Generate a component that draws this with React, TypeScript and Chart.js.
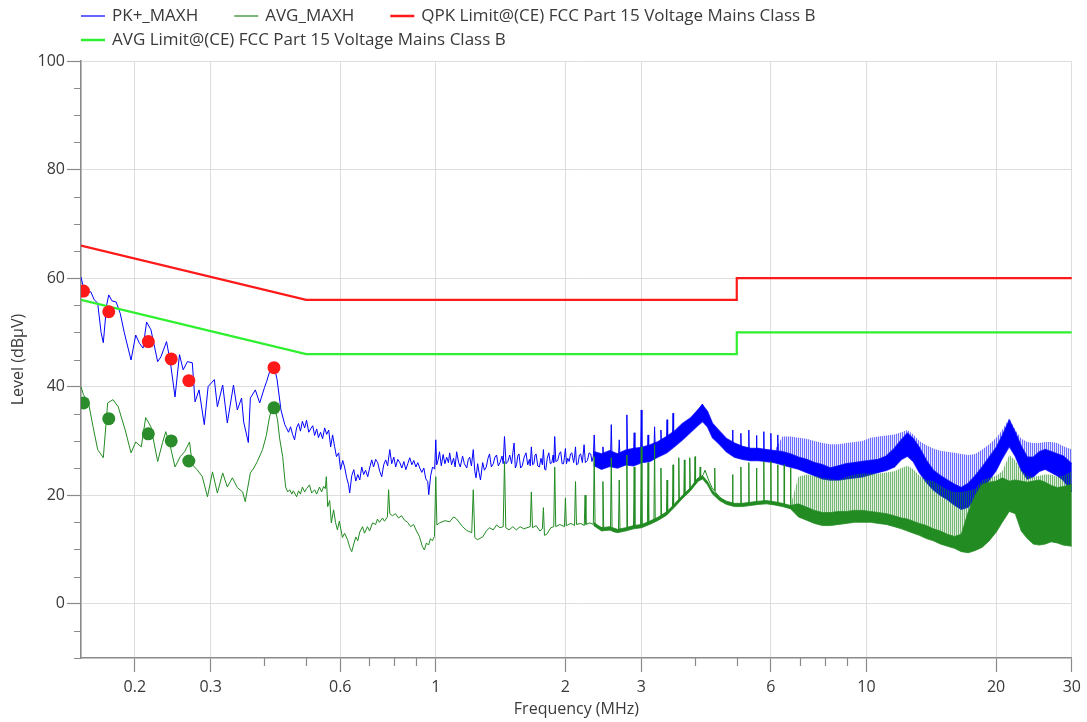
import React, { useEffect, useRef } from 'react';
import { Chart, registerables } from 'chart.js';

Chart.register(...registerables);

type Pt = [number, number];

// ---------- axes ----------
const xMajorTicks = [0.2, 0.3, 0.6, 1, 2, 3, 6, 10, 20, 30];
const xMinorTicks = [0.4, 0.5, 0.7, 0.8, 0.9, 4, 5, 7, 8, 9];
const yMajorTicks = [0, 20, 40, 60, 80, 100];
const yMinorTicks = [-10, -5, 5, 10, 15, 25, 30, 35, 45, 50, 55, 65, 70, 75, 85, 90, 95];

// ---------- series names ----------
const seriesNames = [
  'PK+_MAXH',
  'AVG_MAXH',
  'QPK Limit@(CE) FCC Part 15 Voltage Mains Class B',
  'AVG Limit@(CE) FCC Part 15 Voltage Mains Class B',
];

// ---------- limit lines (MHz, dBµV) ----------
const qpkLimit: Pt[] = [[0.15, 66], [0.5, 56], [5, 56], [5, 60], [30, 60]];
const avgLimit: Pt[] = [[0.15, 56], [0.5, 46], [5, 46], [5, 50], [30, 50]];

// ---------- final measurement markers ----------
const pkMarkers: Pt[] = [[0.152, 57.6], [0.174, 53.8], [0.215, 48.3], [0.243, 45.1], [0.267, 41.1], [0.421, 43.5]];
const avgMarkers: Pt[] = [[0.152, 37.0], [0.174, 34.1], [0.215, 31.3], [0.243, 30.0], [0.267, 26.3], [0.421, 36.1]];

// ---------- PK+ trace ----------
const pkTraceA: Pt[] = [
  [0.150, 60.2], [0.152, 58.2], [0.155, 57.2], [0.158, 57.5], [0.161, 56.0], [0.164, 55.4], [0.167, 50.0],
  [0.169, 48.1], [0.172, 55.0], [0.174, 56.9], [0.177, 55.8], [0.181, 55.6], [0.185, 53.5], [0.189, 50.0],
  [0.196, 44.9], [0.201, 49.5], [0.205, 48.0], [0.209, 47.1], [0.213, 51.9], [0.218, 50.5], [0.226, 44.6],
  [0.230, 45.5], [0.237, 48.3], [0.242, 44.4], [0.248, 38.1], [0.254, 45.9], [0.259, 43.1], [0.265, 44.6],
  [0.272, 44.4], [0.276, 37.2], [0.282, 39.4], [0.290, 33.0], [0.296, 40.0], [0.306, 41.3], [0.311, 36.3],
  [0.320, 40.3], [0.328, 33.3], [0.339, 40.3], [0.346, 35.7], [0.354, 37.9], [0.358, 33.5], [0.367, 29.7],
  [0.371, 37.9], [0.381, 39.4], [0.390, 37.0], [0.400, 39.8], [0.405, 41.0], [0.411, 42.7], [0.416, 43.9],
  [0.422, 43.5], [0.428, 41.3], [0.437, 35.7],
];
const pkTraceB: Pt[] = [
  [0.446, 33.0], [0.450, 32.4], [0.455, 31.6], [0.460, 32.6], [0.465, 31.2], [0.470, 30.2], [0.475, 32.4],
  [0.480, 33.2], [0.485, 31.8], [0.490, 33.6], [0.496, 32.4], [0.501, 33.8], [0.507, 31.6], [0.512, 32.2],
  [0.518, 32.8], [0.523, 31.0], [0.529, 32.2], [0.534, 30.6], [0.540, 31.6], [0.546, 30.4], [0.552, 32.4],
  [0.558, 31.2], [0.564, 32.0], [0.570, 28.9], [0.576, 31.1], [0.582, 29.0], [0.588, 27.1], [0.595, 27.8],
  [0.601, 24.7], [0.608, 26.4], [0.614, 25.2], [0.621, 23.2], [0.627, 22.0], [0.631, 20.4], [0.638, 23.6],
  [0.645, 24.7], [0.652, 22.6], [0.659, 23.8], [0.666, 22.8], [0.673, 25.2], [0.680, 23.8], [0.687, 24.6],
  [0.695, 23.4], [0.702, 25.0], [0.710, 26.5], [0.717, 25.2], [0.725, 26.6], [0.733, 26.0], [0.741, 24.4],
  [0.749, 23.4], [0.757, 25.6], [0.765, 26.5], [0.773, 25.4], [0.782, 28.4], [0.790, 25.8], [0.799, 27.0],
  [0.807, 25.2], [0.816, 26.6], [0.825, 26.0], [0.834, 25.0], [0.843, 26.2], [0.852, 24.7], [0.861, 25.8],
  [0.870, 26.9], [0.880, 25.6], [0.889, 26.4], [0.899, 25.2], [0.908, 26.0], [0.918, 25.0], [0.928, 24.2],
  [0.938, 25.0], [0.948, 23.0], [0.958, 22.5], [0.963, 20.1], [0.973, 23.6], [0.983, 25.2], [0.994, 24.8],
  [1.000, 30.2], [1.005, 25.6],
];
const pkTraceC: Pt[] = [
  [1.012, 26.4], [1.02, 28.0], [1.03, 25.4], [1.04, 27.5], [1.05, 25.8], [1.06, 27.0], [1.07, 26.0],
  [1.077, 27.8], [1.088, 25.6], [1.10, 26.8], [1.109, 25.2], [1.118, 28.0], [1.13, 26.0], [1.14, 25.2],
  [1.154, 27.2], [1.165, 25.8], [1.18, 25.0], [1.19, 26.6], [1.199, 27.0], [1.21, 25.4], [1.222, 28.4],
  [1.232, 24.4], [1.24, 23.2], [1.251, 25.8], [1.26, 24.2], [1.27, 22.8], [1.285, 26.0], [1.297, 24.6],
  [1.31, 25.2], [1.322, 26.8], [1.333, 27.6], [1.346, 25.2], [1.36, 25.8], [1.372, 27.0], [1.384, 27.4],
  [1.397, 25.4], [1.41, 26.0], [1.425, 27.2], [1.434, 25.8], [1.444, 30.8], [1.456, 25.8], [1.47, 26.2],
  [1.485, 27.4], [1.50, 25.8], [1.51, 27.8], [1.52, 29.6], [1.53, 25.0], [1.54, 25.6], [1.55, 27.2],
  [1.56, 27.6], [1.574, 25.0], [1.588, 25.4], [1.604, 27.0], [1.62, 27.8], [1.635, 25.6], [1.65, 26.6],
  [1.657, 25.4], [1.667, 28.9], [1.678, 25.6], [1.69, 25.8], [1.70, 27.4], [1.71, 27.6], [1.725, 25.4],
  [1.74, 25.2], [1.755, 26.8], [1.768, 25.6], [1.778, 28.4], [1.79, 24.8], [1.80, 24.6], [1.815, 26.8],
  [1.83, 27.8], [1.845, 25.8], [1.86, 26.0], [1.873, 27.4], [1.879, 26.0], [1.889, 30.8], [1.90, 26.2],
  [1.92, 26.4], [1.935, 27.6], [1.95, 28.0], [1.965, 25.8], [1.98, 25.8], [1.99, 27.0], [2.0, 28.6],
  [2.012, 25.8], [2.025, 26.8], [2.04, 26.2], [2.055, 27.6], [2.07, 27.8], [2.09, 26.0], [2.10, 27.0],
  [2.111, 28.9], [2.122, 25.6], [2.14, 25.8], [2.155, 27.4], [2.17, 27.6], [2.19, 26.0], [2.21, 29.3],
  [2.225, 26.0], [2.25, 26.4], [2.27, 27.8], [2.29, 27.6], [2.305, 26.2],
];
const pkTraceD: Pt[] = [
  [2.322, 27.2], [2.333, 31.1], [2.345, 26.8], [2.39, 27.4], [2.434, 26.6], [2.444, 28.9], [2.455, 26.8],
  [2.50, 27.2], [2.545, 26.4], [2.556, 33.0], [2.567, 26.6], [2.61, 27.4], [2.656, 26.8], [2.667, 30.2],
  [2.678, 26.8], [2.72, 27.6], [2.767, 27.0], [2.778, 34.8], [2.789, 27.0], [2.83, 27.8], [2.878, 27.2],
  [2.889, 31.5], [2.900, 27.2], [2.95, 28.0], [2.989, 27.4], [3.0, 35.7], [3.011, 27.6], [3.06, 28.2],
  [3.10, 27.8], [3.111, 31.1], [3.122, 28.0], [3.17, 28.8], [3.211, 28.2], [3.222, 32.6], [3.233, 28.4],
  [3.28, 29.4], [3.322, 28.8], [3.333, 32.0], [3.344, 29.0], [3.39, 30.0], [3.433, 29.6], [3.444, 33.9],
  [3.455, 29.8], [3.50, 30.6], [3.545, 30.2], [3.556, 35.1], [3.567, 30.6], [3.62, 31.6], [3.70, 32.4],
  [3.80, 33.4], [3.90, 34.0], [4.0, 35.0], [4.08, 35.8], [4.16, 36.8], [4.25, 34.8], [4.35, 33.0],
  [4.45, 31.8], [4.56, 30.8], [4.70, 29.8], [4.80, 29.0], [4.878, 28.6], [4.889, 32.0], [4.900, 28.6],
  [5.0, 28.2], [5.10, 28.0], [5.111, 31.4], [5.122, 28.0], [5.25, 27.8], [5.322, 27.8], [5.333, 32.0],
  [5.344, 27.6], [5.45, 27.8], [5.545, 27.6], [5.556, 31.0], [5.567, 27.6], [5.68, 27.6], [5.767, 27.4],
  [5.778, 31.7], [5.789, 27.4], [5.90, 27.4], [5.989, 27.2], [6.0, 31.4], [6.011, 27.2], [6.12, 27.0],
  [6.211, 27.0], [6.222, 31.1], [6.233, 27.0], [6.30, 27.0],
];

// ---------- AVG trace ----------
const avgTraceA: Pt[] = [
  [0.150, 40.0], [0.152, 38.5], [0.156, 37.2], [0.160, 32.6], [0.164, 28.4], [0.169, 26.9], [0.173, 37.0],
  [0.178, 37.6], [0.183, 36.3], [0.190, 32.0], [0.196, 27.8], [0.201, 29.8], [0.207, 28.9], [0.212, 34.3],
  [0.218, 32.6], [0.226, 26.2], [0.232, 29.7], [0.236, 31.7], [0.242, 28.9], [0.248, 25.2], [0.255, 27.1],
  [0.261, 28.0], [0.268, 29.8], [0.272, 25.6], [0.279, 24.7], [0.287, 23.4], [0.295, 19.7], [0.303, 24.3],
  [0.311, 20.4], [0.320, 24.1], [0.328, 21.5], [0.337, 23.2], [0.346, 21.4], [0.356, 20.6], [0.361, 18.8],
  [0.371, 24.1], [0.378, 25.0], [0.385, 26.2], [0.396, 28.4], [0.404, 31.0], [0.411, 34.4], [0.420, 37.0],
  [0.429, 33.9], [0.434, 30.4], [0.441, 27.1],
];
const avgTraceB: Pt[] = [
  [0.446, 23.0], [0.448, 21.5], [0.453, 20.6], [0.458, 21.0], [0.463, 20.2], [0.467, 20.8], [0.475, 19.7],
  [0.480, 20.8], [0.485, 20.2], [0.490, 21.5], [0.496, 20.6], [0.501, 21.2], [0.509, 21.9], [0.515, 20.4],
  [0.523, 21.0], [0.529, 20.2], [0.537, 21.5], [0.543, 20.6], [0.549, 21.6], [0.554, 21.2], [0.557, 23.4],
  [0.561, 17.9], [0.567, 19.0], [0.572, 14.9], [0.579, 17.3], [0.585, 15.0], [0.591, 13.6], [0.597, 15.2],
  [0.607, 12.2], [0.614, 13.0], [0.624, 11.8], [0.631, 10.4], [0.638, 9.6], [0.645, 11.0], [0.652, 12.3],
  [0.659, 11.6], [0.666, 13.2], [0.676, 14.2], [0.683, 13.0], [0.694, 14.2], [0.702, 13.4], [0.713, 14.9],
  [0.725, 14.6], [0.732, 15.6], [0.740, 15.0], [0.752, 15.8], [0.760, 15.2], [0.772, 16.0], [0.777, 21.0],
  [0.782, 16.6], [0.793, 16.2], [0.806, 16.6], [0.819, 15.8], [0.833, 16.2], [0.846, 15.4], [0.860, 15.0],
  [0.874, 14.2], [0.888, 14.6], [0.902, 13.4], [0.916, 12.4], [0.931, 10.5], [0.941, 9.9], [0.951, 11.2],
  [0.962, 10.8], [0.972, 12.0], [0.982, 11.6], [0.993, 12.4], [1.000, 23.4], [1.006, 14.5],
];
const avgTraceC: Pt[] = [
  [1.02, 14.9], [1.05, 15.3], [1.077, 15.1], [1.10, 16.0], [1.118, 15.6], [1.154, 14.2], [1.18, 13.5],
  [1.212, 13.1], [1.222, 21.0], [1.232, 12.2], [1.25, 11.8], [1.285, 12.3], [1.31, 13.4], [1.333, 14.0],
  [1.36, 13.6], [1.384, 14.5], [1.41, 14.0], [1.434, 14.2], [1.444, 26.2], [1.454, 14.0], [1.48, 13.6],
  [1.51, 14.2], [1.538, 13.6], [1.57, 14.2], [1.60, 13.8], [1.657, 14.2], [1.667, 20.6], [1.677, 14.0],
  [1.71, 14.4], [1.745, 13.4], [1.768, 13.8], [1.778, 17.7], [1.788, 12.6], [1.81, 12.8], [1.85, 14.0],
  [1.879, 14.2], [1.889, 25.2], [1.899, 14.2], [1.94, 14.6], [1.99, 14.2], [2.0, 19.5], [2.01, 14.4],
  [2.06, 14.8], [2.10, 14.4], [2.111, 22.5], [2.122, 14.6], [2.17, 14.8], [2.212, 14.4], [2.222, 20.0],
  [2.232, 14.6], [2.28, 14.9], [2.322, 14.6], [2.333, 27.1], [2.344, 14.4],
];
const avgTraceD: Pt[] = [
  [2.39, 14.2], [2.434, 14.0], [2.444, 22.5], [2.455, 13.8], [2.50, 13.6], [2.545, 13.6], [2.556, 26.9],
  [2.567, 13.4], [2.61, 13.2], [2.656, 13.4], [2.667, 22.8], [2.678, 13.4], [2.72, 13.6], [2.767, 13.8],
  [2.778, 27.4], [2.789, 13.8], [2.83, 14.0], [2.878, 14.0], [2.889, 25.2], [2.900, 14.0], [2.95, 14.2],
  [2.989, 14.2], [3.0, 28.9], [3.011, 14.4], [3.06, 14.6], [3.10, 14.8], [3.111, 26.0], [3.122, 14.8],
  [3.17, 15.2], [3.211, 15.4], [3.222, 29.3], [3.233, 15.6], [3.28, 15.8], [3.322, 16.0], [3.333, 25.0],
  [3.344, 16.2], [3.39, 16.6], [3.433, 16.8], [3.444, 22.8], [3.455, 17.0], [3.50, 17.4], [3.545, 17.6],
  [3.556, 25.6], [3.567, 17.8], [3.62, 18.4], [3.656, 18.8], [3.667, 26.9], [3.678, 19.0], [3.72, 19.4],
  [3.767, 19.8], [3.778, 26.5], [3.789, 20.0], [3.84, 20.4], [3.878, 20.8], [3.889, 26.9], [3.900, 21.0],
  [3.95, 21.4], [3.989, 21.8], [4.0, 27.1], [4.011, 22.0], [4.06, 22.6], [4.10, 23.0], [4.111, 25.2],
  [4.122, 23.2], [4.18, 23.8], [4.22, 24.6], [4.30, 22.8], [4.38, 21.4], [4.433, 20.8], [4.444, 25.0],
  [4.455, 20.6], [4.55, 19.8], [4.65, 19.0], [4.75, 18.6], [4.878, 18.2], [4.889, 23.8], [4.900, 18.2],
  [5.0, 18.2], [5.10, 18.2], [5.111, 25.2], [5.122, 18.2], [5.22, 18.4], [5.322, 18.4], [5.333, 26.0],
  [5.344, 18.4], [5.45, 18.4], [5.545, 18.6], [5.556, 25.0], [5.567, 18.6], [5.67, 18.6], [5.767, 18.6],
  [5.778, 26.2], [5.789, 18.6], [5.90, 18.6], [5.989, 18.6], [6.0, 26.2], [6.011, 18.4], [6.12, 18.4],
  [6.211, 18.4], [6.222, 25.6], [6.233, 18.2], [6.36, 18.2], [6.434, 18.0], [6.444, 25.6], [6.455, 18.0],
  [6.56, 17.8], [6.656, 17.8], [6.667, 25.0], [6.678, 17.6], [6.80, 17.4], [6.95, 17.2],
];

// ---------- dense high-frequency region: envelopes on a shared frequency grid ----------
const bandFreq = [
  2.325, 2.427, 2.533, 2.643, 2.759, 2.880, 3.005, 3.136, 3.273, 3.435,
  3.585, 3.741, 3.904, 4.053, 4.163, 4.276, 4.392, 4.560, 4.733, 4.939,
  5.155, 5.380, 5.615, 5.860, 6.116, 6.384, 6.662, 6.954, 7.257, 7.575,
  7.905, 8.251, 8.610, 8.986, 9.380, 9.789, 10.22, 10.66, 11.13, 11.61,
  12.06, 12.45, 12.85, 13.27, 13.78, 14.30, 14.85, 15.42, 16.01, 16.61,
  17.25, 17.90, 18.58, 19.29, 20.03, 20.68, 21.47, 22.17, 22.89, 23.64,
  24.41, 25.20, 26.02, 26.87, 27.75, 28.65, 30.0,
];
const pkBandLow = [
  25.5, 24.8, 25.3, 25.0, 25.6, 25.4, 26.0, 26.2, 27.0, 27.8,
  29.0, 30.2, 31.6, 32.8, 33.6, 32.6, 30.6, 29.4, 28.0, 27.0,
  26.6, 26.4, 26.4, 26.2, 26.0, 25.6, 25.2, 24.8, 24.2, 23.6,
  23.0, 22.8, 22.8, 23.0, 23.2, 23.4, 23.8, 24.2, 24.6, 25.2,
  26.6, 27.2, 26.2, 24.2, 22.4, 21.0, 20.0, 19.2, 18.2, 17.4,
  17.8, 19.4, 21.0, 22.8, 24.6, 26.8, 29.0, 27.2, 24.6, 23.0,
  23.4, 24.4, 24.8, 24.2, 23.6, 22.8, 20.6,
];
const pkBandHigh = [
  28.0, 27.6, 28.2, 27.6, 28.3, 28.6, 28.8, 29.2, 29.8, 30.8,
  31.8, 33.2, 34.2, 35.6, 36.6, 35.4, 33.2, 31.8, 30.4, 29.6,
  29.0, 28.6, 28.6, 28.4, 28.2, 28.0, 27.6, 27.0, 26.6, 26.0,
  25.6, 25.0, 25.4, 25.8, 26.0, 26.2, 26.4, 26.6, 27.2, 28.6,
  30.2, 31.4, 30.4, 28.8, 26.4, 24.6, 23.6, 22.8, 22.0, 21.4,
  22.2, 23.6, 25.2, 27.0, 28.8, 31.0, 33.8, 31.6, 29.0, 27.0,
  27.0, 28.0, 28.4, 28.0, 27.6, 27.2, 25.8,
];
const pkSpikeTop = [
  28.0, 27.6, 28.2, 27.6, 28.3, 28.6, 28.8, 29.2, 29.8, 30.8,
  31.8, 33.2, 34.2, 35.6, 36.6, 35.4, 33.2, 31.8, 30.4, 29.6,
  29.0, 28.6, 28.6, 28.4, 28.2, 30.8, 30.8, 30.6, 30.4, 30.0,
  29.6, 29.4, 29.4, 29.6, 29.8, 30.0, 30.6, 30.8, 31.0, 31.2,
  31.6, 32.0, 31.2, 30.0, 29.2, 28.6, 28.2, 28.0, 27.8, 27.6,
  27.4, 27.6, 28.4, 29.4, 30.6, 32.0, 34.2, 32.0, 30.4, 29.8,
  29.6, 29.6, 29.8, 29.8, 29.6, 29.0, 28.4,
];
const avgBandLow = [
  14.4, 13.4, 13.6, 13.1, 13.4, 13.8, 14.0, 14.6, 15.3, 16.3,
  17.8, 19.4, 20.8, 22.5, 23.0, 21.9, 20.2, 19.0, 18.3, 17.9,
  17.9, 18.1, 18.3, 18.4, 18.2, 17.9, 17.5, 16.0, 15.4, 14.8,
  14.4, 14.4, 14.6, 14.8, 15.0, 15.0, 15.0, 14.8, 14.6, 14.2,
  13.8, 13.4, 13.0, 12.6, 12.0, 11.6, 11.0, 10.6, 10.2, 9.6,
  9.4, 9.8, 10.4, 11.6, 13.2, 15.0, 17.0, 16.6, 13.4, 12.0,
  11.0, 10.8, 11.0, 11.4, 11.2, 10.8, 10.6,
];
const avgBandHigh = [
  15.0, 14.0, 14.2, 13.7, 14.0, 14.4, 14.6, 15.2, 15.9, 16.9,
  18.4, 20.0, 21.4, 23.1, 23.6, 22.5, 20.8, 19.6, 18.9, 18.5,
  18.5, 18.7, 18.9, 19.0, 18.8, 18.5, 18.1, 18.4, 17.8, 17.2,
  16.8, 16.8, 17.0, 17.0, 17.2, 17.2, 17.0, 16.8, 16.6, 16.2,
  15.8, 15.6, 15.2, 14.8, 14.4, 13.8, 13.4, 12.8, 12.4, 12.8,
  17.0, 20.0, 22.0, 22.4, 22.6, 23.2, 22.6, 22.8, 22.6, 22.4,
  22.6, 22.8, 22.4, 21.8, 21.4, 21.6, 22.0,
];
const avgSpikeTop = [
  15.0, 14.0, 14.2, 13.7, 14.0, 14.4, 14.6, 15.2, 15.9, 16.9,
  18.4, 20.0, 21.4, 23.1, 23.6, 22.5, 20.8, 19.6, 18.9, 18.5,
  18.5, 18.7, 18.9, 19.0, 18.8, 18.5, 18.1, 23.4, 23.8, 23.6,
  23.2, 23.0, 22.8, 23.4, 23.8, 24.0, 24.0, 24.0, 24.2, 24.4,
  25.0, 25.4, 24.8, 23.6, 22.8, 22.6, 21.8, 21.0, 20.6, 20.6,
  20.8, 21.2, 22.8, 23.2, 23.6, 24.4, 27.4, 26.4, 24.6, 23.6,
  23.4, 23.6, 23.8, 23.8, 23.4, 23.6, 24.4,
];

// ---------- styling ----------
const FONT = '"Open Sans", "DejaVu Sans", sans-serif';
const TEXT = '#3a3a3a';
const AXIS = '#8a8a8a';
const GRID = '#dedede';
const BLUE = '#0000ff';
const GREEN = '#228b22';
const RED = '#ff1a1a';
const LIME = '#2ef02e';

const xy = (pts: Pt[]) => pts.map(([x, y]) => ({ x, y }));
const band = (vals: number[]) => bandFreq.map((x, i) => ({ x, y: vals[i] }));

const lineDs = (label: string, data: any[], color: any, width: number, order: number, extra: any = {}) => ({
  label, data, borderColor: color, backgroundColor: color, borderWidth: width,
  pointRadius: 0, order, ...extra,
});

const legendPlugin = {
  id: 'customLegend',
  afterDraw(chart: any) {
    const { ctx } = chart;
    const items = [
      { text: seriesNames[0], color: BLUE, w: 1.2, row: 0 },
      { text: seriesNames[1], color: GREEN, w: 1.2, row: 0 },
      { text: seriesNames[2], color: RED, w: 2.5, row: 0 },
      { text: seriesNames[3], color: LIME, w: 2.5, row: 1 },
    ];
    ctx.save();
    ctx.font = `17px ${FONT}`;
    ctx.textBaseline = 'middle';
    const rowY = [16, 40];
    const cursor = [81, 81];
    for (const it of items) {
      const y = rowY[it.row];
      const x = cursor[it.row];
      ctx.strokeStyle = it.color;
      ctx.lineWidth = it.w;
      ctx.beginPath();
      ctx.moveTo(x, y);
      ctx.lineTo(x + 24, y);
      ctx.stroke();
      ctx.fillStyle = TEXT;
      ctx.fillText(it.text, x + 31, y);
      cursor[it.row] = x + 31 + ctx.measureText(it.text).width + 36;
    }
    ctx.restore();
  },
};

const minorTickPlugin = {
  id: 'minorTicks',
  afterDraw(chart: any) {
    const { ctx, chartArea, scales } = chart;
    ctx.save();
    ctx.strokeStyle = AXIS;
    ctx.lineWidth = 1.2;
    ctx.beginPath();
    for (const v of yMinorTicks) {
      const y = Math.round(scales.y.getPixelForValue(v)) + 0.5;
      ctx.moveTo(chartArea.left - 7, y);
      ctx.lineTo(chartArea.left, y);
    }
    for (const v of xMinorTicks) {
      const x = Math.round(scales.x.getPixelForValue(v)) + 0.5;
      ctx.moveTo(x, chartArea.bottom);
      ctx.lineTo(x, chartArea.bottom + 8);
    }
    ctx.stroke();
    ctx.restore();
  },
};

function stripe(target: HTMLCanvasElement, c1: string, c2: string) {
  const pc = document.createElement('canvas');
  pc.width = 2;
  pc.height = 1;
  const p = pc.getContext('2d')!;
  p.fillStyle = c1;
  p.fillRect(0, 0, 1, 1);
  p.fillStyle = c2;
  p.fillRect(1, 0, 1, 1);
  return target.getContext('2d')!.createPattern(pc, 'repeat');
}

export default function App() {
  const ref = useRef<HTMLCanvasElement>(null);

  useEffect(() => {
    document.body.style.margin = '0';
    const canvas = ref.current;
    if (!canvas) return;

    const pkTrace = xy([...pkTraceA, ...pkTraceB, ...pkTraceC, ...pkTraceD]);
    const avgTrace = xy([...avgTraceA, ...avgTraceB, ...avgTraceC, ...avgTraceD]);

    const pkHaze = stripe(canvas, 'rgba(20,20,255,0.62)', 'rgba(0,0,255,0.10)');
    const avgHaze = stripe(canvas, 'rgba(34,139,34,0.62)', 'rgba(34,139,34,0.14)');

    const datasets: any[] = [
      // 0,1 markers
      { label: 'pk markers', data: xy(pkMarkers), showLine: false, pointRadius: 6.5, pointBackgroundColor: RED,
        pointBorderColor: RED, pointBorderWidth: 0, borderColor: RED, backgroundColor: RED, order: 0 },
      { label: 'avg markers', data: xy(avgMarkers), showLine: false, pointRadius: 6.5, pointBackgroundColor: '#2a8c2a',
        pointBorderColor: '#2a8c2a', pointBorderWidth: 0, borderColor: GREEN, backgroundColor: GREEN, order: 1 },
      // 2,3 limits
      lineDs(seriesNames[2], xy(qpkLimit), RED, 2.2, 2),
      lineDs(seriesNames[3], xy(avgLimit), LIME, 2.2, 3),
      // 4 avg trace
      lineDs(seriesNames[1], avgTrace, GREEN, 1, 4),
      // 5,6,7 avg dense envelopes
      lineDs('avg spikes', band(avgSpikeTop), 'rgba(34,139,34,0)', 0, 5, { fill: 6, backgroundColor: avgHaze }),
      lineDs('avg band hi', band(avgBandHigh), GREEN, 0.8, 6, { fill: 7, backgroundColor: GREEN }),
      lineDs('avg band lo', band(avgBandLow), GREEN, 0.8, 7),
      // 8 pk trace
      lineDs(seriesNames[0], pkTrace, BLUE, 1, 8),
      // 9,10,11 pk dense envelopes
      lineDs('pk spikes', band(pkSpikeTop), 'rgba(0,0,255,0)', 0, 9, { fill: 10, backgroundColor: pkHaze }),
      lineDs('pk band hi', band(pkBandHigh), 'rgba(0,0,255,0.8)', 1.4, 10, { fill: 11, backgroundColor: BLUE }),
      lineDs('pk band lo', band(pkBandLow), 'rgba(0,0,255,0.8)', 1.4, 11),
    ];

    const chart = new Chart(canvas, {
      type: 'line',
      data: { datasets },
      options: {
        animation: false,
        responsive: false,
        devicePixelRatio: 1,
        events: [],
        layout: { padding: { top: 61, right: 14, bottom: 0, left: 0 } },
        plugins: {
          legend: { display: false },
          tooltip: { enabled: false },
          title: { display: false },
        },
        scales: {
          x: {
            type: 'logarithmic',
            min: 0.15,
            max: 30,
            afterBuildTicks: (s: any) => { s.ticks = xMajorTicks.map((v) => ({ value: v })); },
            afterFit: (s: any) => { s.height = 64; },
            ticks: {
              autoSkip: false, maxRotation: 0, minRotation: 0, padding: 6, color: TEXT,
              font: { family: FONT, size: 16 },
              callback: (v: any) => String(v),
            },
            grid: { color: GRID, lineWidth: 1, tickColor: AXIS, tickLength: 14, tickWidth: 1.2 },
            border: { color: AXIS, width: 1.6 },
            title: { display: true, text: 'Frequency (MHz)', color: TEXT, font: { family: FONT, size: 16 },
              padding: { top: 0, bottom: 3 } },
          },
          y: {
            type: 'linear',
            min: -10,
            max: 100,
            afterBuildTicks: (s: any) => { s.ticks = yMajorTicks.map((v) => ({ value: v })); },
            afterFit: (s: any) => { s.width = 81; },
            ticks: { padding: 2, color: TEXT, font: { family: FONT, size: 16 } },
            grid: { color: GRID, lineWidth: 1, tickColor: AXIS, tickLength: 14, tickWidth: 1.2 },
            border: { color: AXIS, width: 1.6 },
            title: { display: true, text: 'Level (dBµV)', color: TEXT, font: { family: FONT, size: 16 },
              padding: { top: 9, bottom: 0 } },
          },
        },
      } as any,
      plugins: [legendPlugin, minorTickPlugin],
    });
    return () => chart.destroy();
  }, []);

  return (
    <canvas ref={ref} width={1087} height={722} style={{ display: 'block', width: 1087, height: 722 }} />
  );
}
